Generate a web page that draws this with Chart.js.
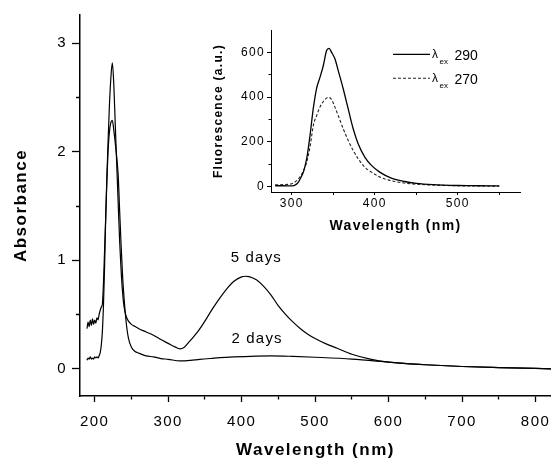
<!DOCTYPE html>
<html>
<head>
<meta charset="utf-8">
<script src="https://cdn.jsdelivr.net/npm/chart.js@4.4.1/dist/chart.umd.min.js"></script>
<style>
  html, body { margin: 0; padding: 0; background: #fff; }
  #wrap { position: relative; width: 551px; height: 460px; overflow: hidden; }
  #mainChart { position: absolute; left: 0; top: 0; }
  #insetChart { position: absolute; left: 200px; top: 20px; }
</style>
</head>
<body>
<div id="wrap">
  <canvas id="mainChart" width="551" height="460"></canvas>
  <canvas id="insetChart" width="340" height="220"></canvas>
</div>
<script>
// ---------- absorbance spectra (main plot) ----------
const wl5days = [189.5, 191, 192.5, 194, 195.5, 197, 198.5, 200, 201.5, 203, 204.5, 206, 207.5, 209, 210.5,
  212, 213.5, 215, 216.5, 218, 220, 222, 224, 226, 228, 230, 232, 234, 236, 238, 240, 243, 246, 250, 255,
  260, 270, 280, 290, 300, 310, 316, 322, 330, 340, 350, 360, 370, 380, 390, 400, 405, 410, 420, 430, 440,
  450, 460, 470, 480, 490, 500, 515, 530, 550, 575, 600, 625, 650, 700, 750, 800, 825];
const abs5days = [0.37, 0.43, 0.39, 0.45, 0.40, 0.46, 0.41, 0.45, 0.42, 0.47, 0.45, 0.50, 0.54, 0.57, 0.60,
  0.80, 1.10, 1.40, 1.75, 2.05, 2.42, 2.68, 2.82, 2.62, 2.25, 1.88, 1.52, 1.17, 0.90, 0.70, 0.57, 0.48, 0.44, 0.41, 0.39,
  0.37, 0.34, 0.31, 0.27, 0.235, 0.20, 0.185, 0.20, 0.26, 0.34, 0.44, 0.55, 0.65, 0.74, 0.81, 0.848, 0.853, 0.85, 0.82, 0.76, 0.68,
  0.58, 0.50, 0.43, 0.37, 0.32, 0.28, 0.23, 0.19, 0.135, 0.09, 0.062, 0.048, 0.038, 0.022, 0.012, 0.004, 0.0];

const wl2days = [189.5, 191, 192.5, 194, 195.5, 197, 198.5, 200, 201.5, 203, 204.5, 206, 207.5, 209, 210.5,
  212, 213.5, 215, 216.5, 218, 220, 222, 224, 226, 228, 230, 232, 234, 236, 238, 240, 243, 246, 250, 255,
  260, 270, 280, 290, 300, 316, 330, 343, 360, 389, 420, 440, 470, 500, 550, 600, 625, 650, 700, 750, 800, 825];
const abs2days = [0.08, 0.10, 0.09, 0.11, 0.09, 0.10, 0.09, 0.11, 0.10, 0.11, 0.10, 0.12, 0.15, 0.22, 0.35,
  0.60, 0.95, 1.40, 1.72, 1.98, 2.18, 2.27, 2.29, 2.20, 2.08, 1.95, 1.78, 1.45, 1.13, 0.85, 0.65, 0.42, 0.28, 0.20, 0.16,
  0.145, 0.12, 0.11, 0.095, 0.088, 0.073, 0.078, 0.088, 0.097, 0.11, 0.118, 0.12, 0.115, 0.107, 0.09, 0.062, 0.048, 0.038, 0.022, 0.012, 0.004, 0.0];

const mainXMajor = [200, 300, 400, 500, 600, 700, 800];
const mainXMinor = [250, 350, 450, 550, 650, 750];
const mainYMajor = [0, 1, 2, 3];
const mainYMinor = [0.5, 1.5, 2.5];

const noteText = ['5 days', '2 days'];
const noteX = [420, 421];
const noteY = [0.98, 0.24];

// ---------- fluorescence spectra (inset) ----------
const wlEx290 = [280, 290, 300, 305, 308, 311, 314, 318, 322, 326, 330, 334, 338, 342, 345, 348, 352, 356,
  362, 368, 374, 380, 388, 396, 406, 420, 436, 450, 470, 500, 525, 550];
const flEx290 = [3, 3, 2, 8, 19, 40, 64, 124, 228, 350, 440, 488, 540, 608, 618, 600, 571, 518,
  437, 347, 258, 191, 131, 94, 64, 37, 22, 14, 8, 4, 3, 2];
const wlEx270 = [280, 290, 300, 308, 314, 318, 322, 326, 330, 334, 340, 344, 348, 352, 356, 362, 368, 374,
  380, 388, 396, 406, 420, 436, 450, 470, 500, 525, 550];
const flEx270 = [7, 8, 12, 34, 69, 109, 176, 273, 317, 355, 389, 399, 389, 355, 317, 258, 206, 161,
  124, 86, 64, 42, 25, 15, 10, 6, 3, 2, 1];

const insetXMajor = [300, 400, 500];
const insetXMinor = [350, 450, 550];
const insetYMajor = [0, 200, 400, 600];
const insetYMinor = [100, 300, 500];
const exValues = ['290', '270'];

const FONT = '"Liberation Sans", Arial, sans-serif';

function toPoints(xs, ys) {
  return xs.map((x, i) => ({ x: x, y: ys[i] }));
}

function fixedTicks(major, minor) {
  return axis => {
    axis.ticks = major.concat(minor).sort((a, b) => a - b).map(v => ({ value: v }));
  };
}

// fixed axis box size, no extra padding for overhanging labels
function fitTo(prop, size) {
  return s => {
    s[prop] = size;
    s.paddingLeft = s.paddingRight = s.paddingTop = s.paddingBottom = 0;
  };
}

// minor ticks are drawn shorter by dashing the tick line
function tickGrid(major, len, minorLen, side, width) {
  return {
    drawOnChartArea: false,
    drawTicks: true,
    tickLength: len,
    tickWidth: width,
    tickColor: '#000',
    tickBorderDash: c => {
      if (!c.tick || major.includes(c.tick.value)) return [];
      return side === 'left' ? [0, len - minorLen, minorLen, 60] : [minorLen, 60];
    }
  };
}

function spacing(px) {
  return {
    id: 'spacing',
    beforeUpdate(chart) { chart.ctx.letterSpacing = px + 'px'; },
    beforeDraw(chart) { chart.ctx.letterSpacing = px + 'px'; }
  };
}

const dayNotes = {
  id: 'dayNotes',
  afterDatasetsDraw(chart) {
    const { ctx, scales } = chart;
    ctx.save();
    ctx.font = '15px ' + FONT;
    ctx.letterSpacing = '1.2px';
    ctx.fillStyle = '#000';
    ctx.textAlign = 'center';
    ctx.textBaseline = 'alphabetic';
    noteText.forEach((t, i) => {
      ctx.fillText(t, scales.x.getPixelForValue(noteX[i]), scales.y.getPixelForValue(noteY[i]));
    });
    ctx.restore();
  }
};

const insetLegend = {
  id: 'insetLegend',
  afterDraw(chart) {
    const { ctx, chartArea } = chart;
    chart.data.datasets.forEach((ds, i) => {
      const y = chartArea.top + 24.3 + i * 24;
      const x0 = chartArea.left + 122;
      ctx.save();
      ctx.strokeStyle = ds.borderColor;
      ctx.lineWidth = ds.borderWidth;
      ctx.setLineDash(ds.borderDash || []);
      ctx.beginPath();
      ctx.moveTo(x0, y);
      ctx.lineTo(x0 + 37, y);
      ctx.stroke();
      ctx.setLineDash([]);
      ctx.letterSpacing = '0px';
      ctx.fillStyle = '#000';
      ctx.textBaseline = 'alphabetic';
      ctx.font = '12px ' + FONT;
      ctx.fillText('λ', x0 + 39, y + 3.7);
      ctx.font = '8px ' + FONT;
      ctx.fillText('ex', x0 + 46.5, y + 9.7);
      ctx.font = '14px ' + FONT;
      ctx.fillText(exValues[i], x0 + 61.5, y + 5.7);
      ctx.restore();
    });
  }
};

// ---------- main chart ----------
new Chart(document.getElementById('mainChart'), {
  type: 'line',
  data: {
    datasets: [
      { label: '5 days', data: toPoints(wl5days, abs5days), borderColor: '#000', borderWidth: 1.2 },
      { label: '2 days', data: toPoints(wl2days, abs2days), borderColor: '#000', borderWidth: 1.2 }
    ]
  },
  options: {
    responsive: false,
    animation: false,
    layout: { padding: { top: 15, right: 0, left: 0, bottom: 0 } },
    elements: { point: { radius: 0 }, line: { cubicInterpolationMode: 'monotone' } },
    plugins: { legend: { display: false }, tooltip: { enabled: false } },
    scales: {
      x: {
        type: 'linear',
        min: 180,
        max: 821,
        afterBuildTicks: fixedTicks(mainXMajor, mainXMinor),
        afterFit: fitTo('height', 64),
        border: { display: true, color: '#000', width: 1.5 },
        grid: tickGrid(mainXMajor, 6, 3, 'bottom', 1.3),
        ticks: {
          autoSkip: false, maxRotation: 0, padding: 11, color: '#000',
          font: { size: 15, family: FONT },
          callback: v => mainXMajor.includes(v) ? String(v) : ''
        },
        title: {
          display: true, text: 'Wavelength (nm)', color: '#000',
          font: { size: 17, weight: 'bold', family: FONT },
          padding: { top: 0, bottom: -1 }
        }
      },
      y: {
        type: 'linear',
        min: -0.25,
        max: 3.26,
        afterBuildTicks: fixedTicks(mainYMajor, mainYMinor),
        afterFit: fitTo('width', 80),
        border: { display: true, color: '#000', width: 1.5 },
        grid: tickGrid(mainYMajor, 8, 4, 'left', 1.3),
        ticks: {
          autoSkip: false, padding: 5, color: '#000',
          font: { size: 15, family: FONT },
          callback: v => mainYMajor.includes(v) ? String(v) : ''
        },
        title: {
          display: true, text: 'Absorbance', color: '#000',
          font: { size: 17, weight: 'bold', family: FONT },
          padding: { top: 11, bottom: 0 }
        }
      }
    }
  },
  plugins: [spacing(1.5), dayNotes]
});

// ---------- inset chart ----------
new Chart(document.getElementById('insetChart'), {
  type: 'line',
  data: {
    datasets: [
      { label: 'λex 290', data: toPoints(wlEx290, flEx290), borderColor: '#000', borderWidth: 1.3 },
      { label: 'λex 270', data: toPoints(wlEx270, flEx270), borderColor: '#222', borderWidth: 1.1, borderDash: [3, 2] }
    ]
  },
  options: {
    responsive: false,
    animation: false,
    layout: { padding: { top: 10, right: 20, left: 0, bottom: 0 } },
    elements: { point: { radius: 0 }, line: { cubicInterpolationMode: 'monotone' } },
    plugins: { legend: { display: false }, tooltip: { enabled: false } },
    scales: {
      x: {
        type: 'linear',
        min: 275,
        max: 575,
        afterBuildTicks: fixedTicks(insetXMajor, insetXMinor),
        afterFit: fitTo('height', 48),
        border: { display: true, color: '#000', width: 1 },
        grid: tickGrid(insetXMajor, 3, 3, 'bottom', 1),
        ticks: {
          autoSkip: false, maxRotation: 0, padding: 1, color: '#000',
          font: { size: 12, family: FONT },
          callback: v => insetXMajor.includes(v) ? String(v) : ''
        },
        title: {
          display: true, text: 'Wavelength (nm)', color: '#000',
          font: { size: 14, weight: 'bold', family: FONT },
          padding: { top: 0, bottom: 5 }
        }
      },
      y: {
        type: 'linear',
        min: -25,
        max: 700,
        afterBuildTicks: fixedTicks(insetYMajor, insetYMinor),
        afterFit: fitTo('width', 71),
        border: { display: true, color: '#000', width: 1 },
        grid: tickGrid(insetYMajor, 4, 2.5, 'left', 1),
        ticks: {
          autoSkip: false, padding: 2, color: '#000',
          font: { size: 12, family: FONT },
          callback: v => insetYMajor.includes(v) ? String(v) : ''
        },
        title: {
          display: true, text: 'Fluorescence (a.u.)', color: '#000',
          font: { size: 12, weight: 'bold', family: FONT },
          padding: { top: 11, bottom: 0 }
        }
      }
    }
  },
  plugins: [spacing(1.3), insetLegend]
});
</script>
</body>
</html>
